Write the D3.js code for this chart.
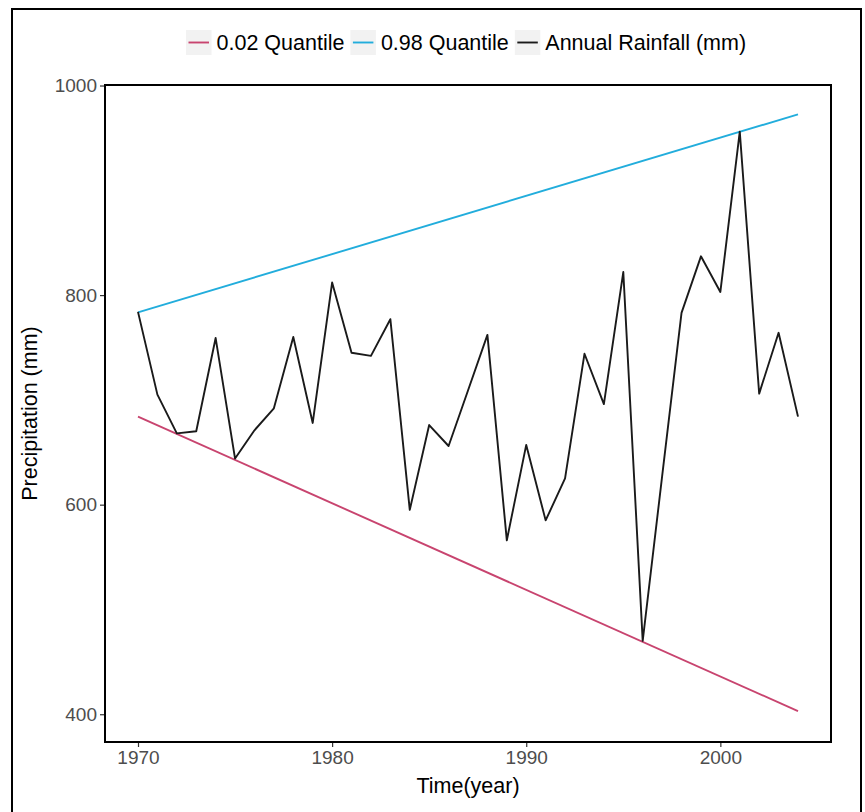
<!DOCTYPE html>
<html><head><meta charset="utf-8">
<script src="https://cdn.jsdelivr.net/npm/d3@7"></script>
<style>body{margin:0;background:#fff}svg{display:block;font-family:"Liberation Sans",Arial,sans-serif}</style>
</head><body>
<svg id="chart" width="865" height="812"></svg>
<script>
const years = d3.range(1970, 2005);
const rainfall = [784, 705, 668, 670, 759, 644, 671, 692, 760, 678, 812, 745, 742, 777, 595, 676, 656, 709, 762, 566, 657, 585, 625, 744, 696, 822, 470, 627, 783, 837, 803, 956, 706, 764, 684];
const trendYears = [1970, 2004];
const q02 = [684, 403];
const q98 = [783.5, 972.5];
const seriesNames = ["0.02 Quantile", "0.98 Quantile", "Annual Rainfall (mm)"];
const seriesColors = ["#C8446F", "#22ADDC", "#1a1a1a"];
const xTicks = [1970, 1980, 1990, 2000];
const yTicks = [400, 600, 800, 1000];

const svg = d3.select("#chart");
const L = 105, R = 831, T = 85, B = 742;
const x = d3.scaleLinear().domain([1968.3, 2005.7]).range([L, R]);
const y = d3.scaleLinear().domain([373.5, 1000.5]).range([B, T]);

// outer frame
svg.append("rect").attr("x", 12).attr("y", 9).attr("width", 849).attr("height", 820)
  .attr("fill", "none").attr("stroke", "#000").attr("stroke-width", 2);

const line = d3.line().x(d => x(d[0])).y(d => y(d[1]));
const data = [
  trendYears.map((t, i) => [t, q02[i]]),
  trendYears.map((t, i) => [t, q98[i]]),
  years.map((t, i) => [t, rainfall[i]])
];
data.forEach((d, i) => {
  svg.append("path").attr("d", line(d)).attr("fill", "none")
    .attr("stroke", seriesColors[i]).attr("stroke-width", 1.9)
    .attr("stroke-linejoin", "round");
});

// axes
const xAxis = svg.append("g").attr("transform", `translate(0,${B})`)
  .call(d3.axisBottom(x).tickValues(xTicks).tickFormat(d3.format("d")).tickSize(5).tickPadding(4));
const yAxis = svg.append("g").attr("transform", `translate(${L},0)`)
  .call(d3.axisLeft(y).tickValues(yTicks).tickFormat(d3.format("d")).tickSize(5).tickPadding(3));
[xAxis, yAxis].forEach(a => {
  a.select(".domain").remove();
  a.selectAll("line").attr("stroke", "#333").attr("stroke-width", 1.2);
  a.selectAll("text").attr("fill", "#4d4d4d").style("font-size", "19px").style("font-family", "'Liberation Sans',Arial,sans-serif");
});

// panel border
svg.append("rect").attr("x", L).attr("y", T).attr("width", R - L).attr("height", B - T)
  .attr("fill", "none").attr("stroke", "#000").attr("stroke-width", 2);

// titles
svg.append("text").attr("x", (L + R) / 2).attr("y", 793).attr("text-anchor", "middle")
  .style("font-size", "21.5px").attr("fill", "#000").text("Time(year)");
svg.append("text").attr("transform", `translate(37,${(T + B) / 2}) rotate(-90)`).attr("text-anchor", "middle")
  .style("font-size", "21.5px").attr("fill", "#000").text("Precipitation (mm)");

// legend
const lg = svg.append("g");
let cx = 186;
seriesNames.forEach((n, i) => {
  lg.append("rect").attr("x", cx).attr("y", 30).attr("width", 25.5).attr("height", 25).attr("fill", "#f2f2f2");
  lg.append("line").attr("x1", cx + 2.5).attr("x2", cx + 23).attr("y1", 42.5).attr("y2", 42.5)
    .attr("stroke", seriesColors[i]).attr("stroke-width", 1.9);
  const t = lg.append("text").attr("x", cx + 30.5).attr("y", 50).style("font-size", "21.5px").attr("fill", "#000").text(n);
  cx += 30.5 + t.node().getComputedTextLength() + 6;
});
</script>
</body></html>
